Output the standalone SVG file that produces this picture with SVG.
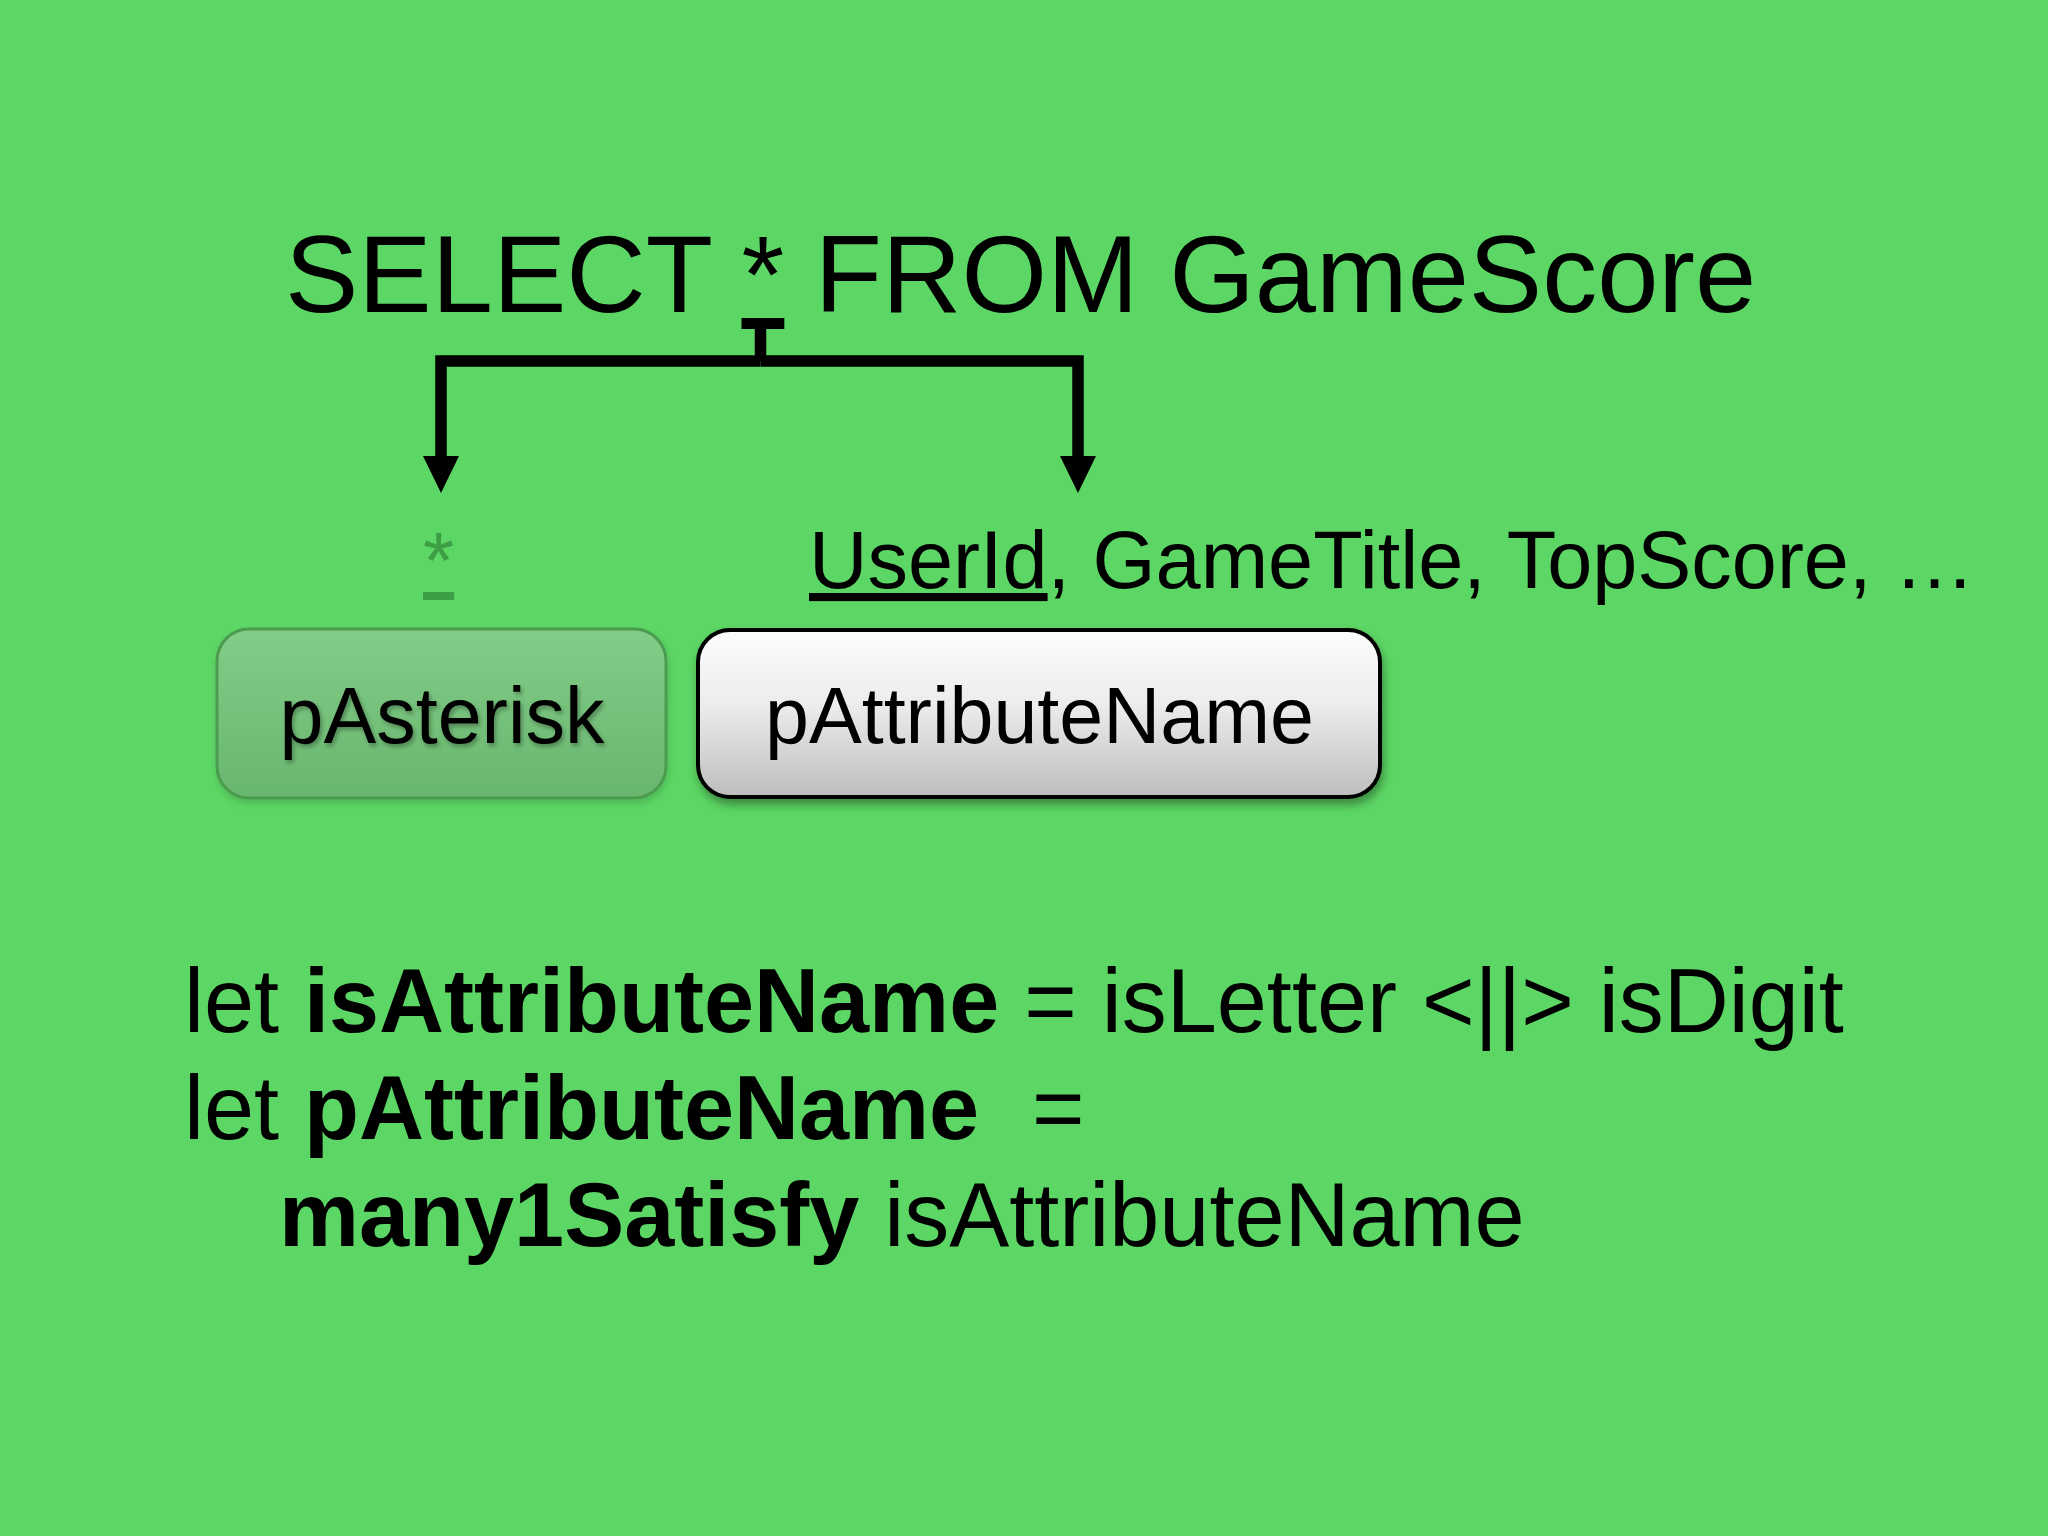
<svg xmlns="http://www.w3.org/2000/svg" width="2048" height="1536" viewBox="0 0 2048 1536">
  <defs>
    <style>
      .t { font-family: "Liberation Sans", Arial, sans-serif; fill: #000; }
      .b { font-weight: bold; }
      .conn { fill: none; stroke: #000; stroke-width: 11.5; stroke-linejoin: miter; stroke-linecap: butt; }
      .lbl { font-size: 79px; text-anchor: middle; }
    </style>
    <linearGradient id="gGreen" x1="0" y1="0" x2="0" y2="1">
      <stop offset="0" stop-color="#82cd88"/>
      <stop offset="1" stop-color="#69b66e"/>
    </linearGradient>
    <linearGradient id="gGray" x1="0" y1="0" x2="0" y2="1">
      <stop offset="0" stop-color="#fdfdfd"/>
      <stop offset="0.45" stop-color="#ececec"/>
      <stop offset="1" stop-color="#bdbdbd"/>
    </linearGradient>
    <filter id="boxShadow" x="-10%" y="-20%" width="120%" height="150%">
      <feDropShadow dx="2" dy="6" stdDeviation="4" flood-color="#000" flood-opacity="0.35"/>
    </filter>
    <filter id="boxShadowLight" x="-10%" y="-20%" width="120%" height="150%">
      <feDropShadow dx="1" dy="4" stdDeviation="3" flood-color="#000" flood-opacity="0.15"/>
    </filter>
    <filter id="txtShadow" x="-10%" y="-20%" width="120%" height="150%">
      <feDropShadow dx="2" dy="3" stdDeviation="2" flood-color="#000" flood-opacity="0.3"/>
    </filter>
    <marker id="arrow" viewBox="0 0 37 36" refX="0" refY="18" markerWidth="37" markerHeight="36" markerUnits="userSpaceOnUse" orient="auto">
      <path d="M0,0 L37,18 L0,36 Z" fill="#000"/>
    </marker>
  </defs>

  <rect x="0" y="0" width="2048" height="1536" fill="#5cd664"/>

  <g id="title">
    <text class="t" x="285" y="312" font-size="110">SELECT <tspan text-decoration="underline">*</tspan> FROM GameScore</text>
  </g>

  <g id="connectors">
    <path class="conn" d="M760.5,318 V361"/>
    <path class="conn" d="M760.5,361 H441 V456" marker-end="url(#arrow)"/>
    <path class="conn" d="M760.5,361 H1078 V456" marker-end="url(#arrow)"/>
  </g>

  <g id="asterisk-label">
    <text class="t" x="423" y="588" font-size="80" style="fill:#3d9f45" text-decoration="underline">*</text>
  </g>

  <g id="attributes-label">
    <text class="t" x="809" y="588" font-size="81"><tspan text-decoration="underline">UserId</tspan>, GameTitle, TopScore, …</text>
  </g>

  <g id="pAsterisk">
    <rect x="217" y="629" width="449" height="169" rx="32" ry="32" fill="url(#gGreen)" stroke="#4b9c50" stroke-width="3" filter="url(#boxShadowLight)"/>
    <text class="t lbl" x="442" y="743" filter="url(#txtShadow)">pAsterisk</text>
  </g>

  <g id="pAttributeName">
    <rect x="698" y="630" width="682" height="167" rx="32" ry="32" fill="url(#gGray)" stroke="#000" stroke-width="4" filter="url(#boxShadow)"/>
    <text class="t lbl" x="1039.5" y="743">pAttributeName</text>
  </g>

  <g id="code">
    <text class="t" x="184" y="1032" font-size="90">let <tspan class="b">isAttributeName</tspan> = isLetter &lt;||&gt; isDigit</text>
    <text class="t" x="184" y="1139" font-size="90">let <tspan class="b">pAttributeName</tspan><tspan x="1032">=</tspan></text>
    <text class="t" x="279" y="1246" font-size="90"><tspan class="b">many1Satisfy</tspan> isAttributeName</text>
  </g>
</svg>
